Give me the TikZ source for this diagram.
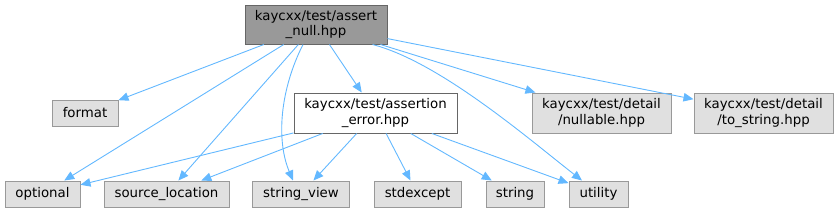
\documentclass[tikz,border=0pt]{standalone}
\usepackage{fontspec}
\setmainfont{DejaVu Sans}
\usetikzlibrary{arrows.meta}
\definecolor{edgec}{HTML}{63B8FF}
\definecolor{rootfill}{HTML}{999999}
\definecolor{darkb}{HTML}{666666}
\definecolor{nodefill}{HTML}{E0E0E0}
\definecolor{lightb}{HTML}{999999}
\begin{document}
\begin{tikzpicture}[x=1pt,y=-1pt,
  every node/.style={font=\fontsize{13.33}{15.6}\selectfont, align=center, inner sep=0pt, line width=1pt},
  rootbox/.style={draw=darkb, fill=rootfill},
  whitebox/.style={draw=darkb, fill=white},
  graybox/.style={draw=lightb, fill=nodefill},
  dep/.style={draw=edgec, line width=0.9pt, -{Triangle[length=10pt,width=8.5pt]}, edgec}
]
\useasboundingbox (0,0) rectangle (839,212);
% nodes
\node[rootbox, minimum width=142pt, minimum height=39pt] (root) at (316,24.5) {kaycxx/test/assert\\\_null.hpp};
\node[graybox, minimum width=66pt, minimum height=26pt] (format) at (85,113) {format};
\node[whitebox, minimum width=163pt, minimum height=40pt] (aerr) at (375.5,113) {kaycxx/test/assertion\\\_error.hpp};
\node[graybox, minimum width=139pt, minimum height=40pt] (nullable) at (601.5,113) {kaycxx/test/detail\\/nullable.hpp};
\node[graybox, minimum width=139pt, minimum height=40pt] (tostr) at (763.5,113) {kaycxx/test/detail\\/to\_string.hpp};
\node[graybox, minimum width=75pt, minimum height=26pt] (optional) at (42.5,194) {optional};
\node[graybox, minimum width=125pt, minimum height=26pt] (srcloc) at (166.5,194) {source\_location};
\node[graybox, minimum width=97pt, minimum height=26pt] (sview) at (301,194) {string\_view};
\node[graybox, minimum width=87pt, minimum height=26pt] (stdexc) at (417.5,194) {stdexcept};
\node[graybox, minimum width=58pt, minimum height=26pt] (string) at (515,194) {string};
\node[graybox, minimum width=59pt, minimum height=26pt] (utility) at (598.5,194) {utility};
% edges from root
\draw[dep] (root) -- (format);
\draw[dep] (root) -- (optional);
\draw[dep] (root) -- (srcloc);
\draw[dep] ([xshift=-13pt]root.south) .. controls (280,90) and (276,140) .. ([xshift=-8pt]sview.north);
\draw[dep] (root) -- (aerr);
\draw[dep] ([xshift=-15pt]root.south east) .. controls (440,62) and (530,140) .. ([xshift=-16.5pt]utility.north);
\draw[dep] (root) -- (nullable);
\draw[dep] (root) -- (tostr);
% edges from assertion_error
\draw[dep] (aerr) -- (optional);
\draw[dep] (aerr) -- (srcloc);
\draw[dep] (aerr) -- (sview);
\draw[dep] (aerr) -- (stdexc);
\draw[dep] (aerr) -- (string);
\draw[dep] (aerr) -- (utility);
\end{tikzpicture}
\end{document}
